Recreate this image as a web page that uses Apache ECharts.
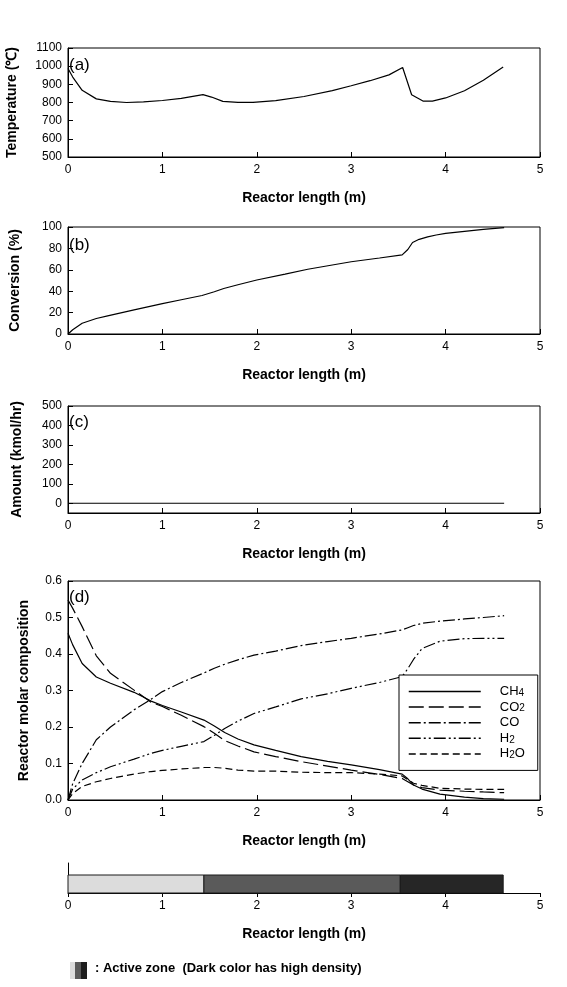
<!DOCTYPE html>
<html><head><meta charset="utf-8">
<script src="https://cdn.jsdelivr.net/npm/echarts@6/dist/echarts.min.js"></script>
<style>html,body{margin:0;padding:0;background:#fff}#c{width:567px;height:987px}</style>
</head><body><div id="c"></div>
<script>
// ---------- data ----------
const xTickValues = [0, 1, 2, 3, 4, 5];

// (a) temperature
const tempX = [0, 0.05, 0.15, 0.3, 0.45, 0.62, 0.8, 1.0, 1.2, 1.43, 1.52, 1.64, 1.8, 1.96, 2.2, 2.5, 2.8, 3.0, 3.2, 3.4, 3.545, 3.64, 3.76, 3.86, 4.0, 4.2, 4.4, 4.61];
const tempY = [987, 940, 867, 820, 806, 800, 803, 811, 823, 843, 830, 806, 801, 801, 810, 833, 865, 892, 920, 952, 993, 843, 808, 808, 825, 865, 922, 996];

// (b) conversion
const convX = [0, 0.05, 0.15, 0.3, 0.42, 0.7, 1.0, 1.2, 1.42, 1.55, 1.65, 1.8, 2.0, 2.3, 2.54, 2.8, 3.0, 3.3, 3.54, 3.6, 3.65, 3.72, 3.81, 3.9, 4.0, 4.2, 4.4, 4.62];
const convY = [0, 4, 10, 14.5, 17, 22.5, 28.4, 32, 36, 39.5, 42.5, 46, 50.5, 56, 60.5, 64.5, 67.5, 71, 74, 79, 85.5, 88.5, 90.7, 92.5, 94, 96, 97.8, 99.4];

// (c) amount
const amtX = [0, 1, 2, 3, 4, 4.62];
const amtY = [0, 0, 0, 0, 0, 0];
const amtTicks = [0, 100, 200, 300, 400, 500];

// (d) molar composition
const compX = [0, 0.05, 0.15, 0.3, 0.45, 0.7, 0.88, 1.0, 1.2, 1.44, 1.55, 1.66, 1.8, 1.97, 2.2, 2.47, 2.75, 3.0, 3.3, 3.54, 3.6, 3.66, 3.75, 3.94, 4.2, 4.4, 4.62];
const ch4 = [0.457, 0.425, 0.374, 0.337, 0.320, 0.295, 0.271, 0.259, 0.241, 0.219, 0.203, 0.185, 0.167, 0.151, 0.136, 0.119, 0.106, 0.096, 0.083, 0.071, 0.058, 0.041, 0.030, 0.016, 0.008, 0.004, 0.002];
const co2 = [0.548, 0.525, 0.475, 0.395, 0.347, 0.301, 0.268, 0.256, 0.232, 0.201, 0.183, 0.163, 0.148, 0.132, 0.119, 0.105, 0.093, 0.082, 0.070, 0.059, 0.050, 0.041, 0.034, 0.027, 0.024, 0.022, 0.020];
const co  = [0, 0.045, 0.100, 0.165, 0.200, 0.247, 0.276, 0.297, 0.322, 0.348, 0.361, 0.372, 0.384, 0.397, 0.408, 0.423, 0.434, 0.443, 0.455, 0.466, 0.472, 0.478, 0.484, 0.490, 0.496, 0.500, 0.505];
const h2  = [0, 0.030, 0.055, 0.075, 0.091, 0.112, 0.128, 0.136, 0.147, 0.160, 0.177, 0.196, 0.216, 0.237, 0.255, 0.277, 0.291, 0.306, 0.322, 0.338, 0.360, 0.385, 0.415, 0.435, 0.442, 0.443, 0.443];
const h2o = [0, 0.018, 0.037, 0.050, 0.059, 0.071, 0.078, 0.081, 0.085, 0.089, 0.089, 0.087, 0.082, 0.079, 0.079, 0.076, 0.075, 0.075, 0.071, 0.066, 0.056, 0.046, 0.040, 0.032, 0.030, 0.029, 0.029];
const compNames = ['CH4', 'CO2', 'CO', 'H2', 'H2O'];

// active zones
const zoneStart = [0, 1.44, 3.52];
const zoneEnd   = [1.44, 3.52, 4.61];

// ---------- styles ----------
const FONT = 'Liberation Sans, Arial, Helvetica, sans-serif';
const zoneColors = ['#dcdcdc', '#5a5a5a', '#262626'];
const compDash = ['solid', [15, 5], [12, 3, 2, 3], [12, 3, 2, 3, 2, 3], [7, 4]];

const pairs = (xs, ys) => xs.map((x, i) => [x, ys[i]]);

const chart = echarts.init(document.getElementById('c'), null, {renderer: 'canvas'});

function xAx(gi, tickInside) {
  return {
    type: 'value', gridIndex: gi, min: 0, max: 5, interval: 1,
    axisLine: {show: true, onZero: false, lineStyle: {color: '#000', width: 1}},
    axisTick: {show: true, inside: tickInside, length: tickInside ? 5 : 4, lineStyle: {color: '#000'}},
    axisLabel: {color: '#000', fontSize: 12, fontFamily: FONT, margin: 7},
    splitLine: {show: false},
    name: 'Reactor length (m)', nameLocation: 'middle', nameGap: 34,
    nameTextStyle: {fontSize: 14, fontWeight: 'bold', color: '#000', fontFamily: FONT}
  };
}
function yAx(gi, min, max, interval, name, nameGap, extra) {
  const a = {
    type: 'value', gridIndex: gi, min: min, max: max,
    axisLine: {show: true, onZero: false, lineStyle: {color: '#000', width: 1}},
    axisTick: {show: true, inside: true, length: 5, lineStyle: {color: '#000'}},
    axisLabel: {color: '#000', fontSize: 12, fontFamily: FONT, margin: 6, formatter: v => String(v)},
    splitLine: {show: false},
    name: name, nameLocation: 'middle', nameGap: nameGap,
    nameTextStyle: {fontSize: 14, fontWeight: 'bold', color: '#000', fontFamily: FONT}
  };
  if (interval != null) a.interval = interval;
  return Object.assign(a, extra || {});
}
const gridBase = {left: 68, right: 27, show: true, borderColor: '#000', borderWidth: 1, backgroundColor: 'transparent', containLabel: false, outerBoundsMode: 'none'};

const lineBase = {type: 'line', symbol: 'none', showSymbol: false, smooth: false, silent: true, animation: false};
const blackLine = {color: '#000', width: 1.2};

const compData = [ch4, co2, co, h2, h2o];
const compSeries = compNames.map((n, i) => Object.assign({}, lineBase, {
  name: n, xAxisIndex: 3, yAxisIndex: 3,
  data: pairs(compX, compData[i]),
  itemStyle: {color: '#000'},
  lineStyle: {color: '#000', width: 1.2, type: compDash[i]}
}));

const option = {
  backgroundColor: '#fff',
  animation: false,
  textStyle: {fontFamily: FONT},
  title: [
    {text: '(a)', left: 69, top: 57, padding: 0, textStyle: {fontSize: 17, fontWeight: 'normal', color: '#000', fontFamily: FONT}},
    {text: '(b)', left: 69, top: 237, padding: 0, textStyle: {fontSize: 17, fontWeight: 'normal', color: '#000', fontFamily: FONT}},
    {text: '(c)', left: 69, top: 414, padding: 0, textStyle: {fontSize: 17, fontWeight: 'normal', color: '#000', fontFamily: FONT}},
    {text: '(d)', left: 69, top: 589, padding: 0, textStyle: {fontSize: 17, fontWeight: 'normal', color: '#000', fontFamily: FONT}}
  ],
  grid: [
    Object.assign({}, gridBase, {top: 48, height: 109}),
    Object.assign({}, gridBase, {top: 227, height: 107}),
    Object.assign({}, gridBase, {top: 406, height: 107}),
    Object.assign({}, gridBase, {top: 581, height: 219}),
    {left: 68, right: 27, top: 863, height: 30, show: false, containLabel: false, outerBoundsMode: 'none'}
  ],
  xAxis: [xAx(0, true), xAx(1, true), xAx(2, true), xAx(3, true), xAx(4, false)],
  yAxis: [
    yAx(0, 500, 1100, 100, 'Temperature (℃)', 49),
    yAx(1, 0, 100, 20, 'Conversion (%)', 46),
    yAx(2, -50, 500, null, 'Amount (kmol/hr)', 44, {
      axisLabel: {color: '#000', fontSize: 12, fontFamily: FONT, margin: 6, customValues: amtTicks},
      axisTick: {show: true, inside: true, length: 5, lineStyle: {color: '#000'}, customValues: amtTicks}
    }),
    yAx(3, 0, 0.6, 0.1, 'Reactor molar composition', 37, {
      axisLabel: {color: '#000', fontSize: 12, fontFamily: FONT, margin: 6, formatter: v => v.toFixed(1)}
    }),
    {type: 'value', gridIndex: 4, min: 0, max: 1,
     axisLine: {show: true, lineStyle: {color: '#000', width: 1}},
     axisTick: {show: false}, axisLabel: {show: false}, splitLine: {show: false}}
  ],
  legend: {
    show: true, orient: 'vertical', left: 399, top: 675,
    data: compNames,
    itemWidth: 72, itemHeight: 12, itemGap: 2.6,
    padding: [10, 9, 10, 9],
    borderColor: '#000', borderWidth: 1, backgroundColor: '#fff',
    selectedMode: false,
    itemStyle: {opacity: 0},
    lineStyle: {color: '#000', width: 1.5},
    formatter: n => n.replace(/(\d)/g, '{s|$1}'),
    textStyle: {
      color: '#000', fontSize: 13, fontFamily: FONT, width: 29, lineHeight: 12, padding: [0, 0, 0, 14],
      rich: {s: {fontSize: 10, color: '#000', fontFamily: FONT, lineHeight: 12, padding: [3, 0, 0, 0]}}
    }
  },
  series: [
    Object.assign({}, lineBase, {name: 'Temperature', xAxisIndex: 0, yAxisIndex: 0, data: pairs(tempX, tempY), lineStyle: blackLine, itemStyle: {color: '#000'}}),
    Object.assign({}, lineBase, {name: 'Conversion', xAxisIndex: 1, yAxisIndex: 1, data: pairs(convX, convY), lineStyle: blackLine, itemStyle: {color: '#000'}}),
    Object.assign({}, lineBase, {name: 'Amount', xAxisIndex: 2, yAxisIndex: 2, data: pairs(amtX, amtY), lineStyle: blackLine, itemStyle: {color: '#000'}}),
    ...compSeries,
    {
      type: 'custom', name: 'Active zone', xAxisIndex: 4, yAxisIndex: 4, silent: true,
      data: zoneStart.map((s, i) => [s, zoneEnd[i], i]),
      renderItem: function (params, api) {
        const p0 = api.coord([api.value(0), 0]);
        const p1 = api.coord([api.value(1), 0.6]);
        return {
          type: 'rect',
          shape: {x: p0[0], y: p1[1], width: p1[0] - p0[0], height: p0[1] - p1[1]},
          style: {fill: zoneColors[api.value(2)], stroke: '#1a1a1a', lineWidth: 1}
        };
      }
    }
  ],
  graphic: [
    {type: 'rect', left: 70, top: 962, shape: {width: 5, height: 17}, style: {fill: '#dcdcdc'}},
    {type: 'rect', left: 75, top: 962, shape: {width: 6, height: 17}, style: {fill: '#5a5a5a'}},
    {type: 'rect', left: 81, top: 962, shape: {width: 6, height: 17}, style: {fill: '#1e1e1e'}},
    {type: 'text', left: 95, top: 962, style: {text: ': Active zone  (Dark color has high density)', fill: '#000', font: 'bold 13px ' + FONT}}
  ]
};
chart.setOption(option);
</script>
</body></html>
